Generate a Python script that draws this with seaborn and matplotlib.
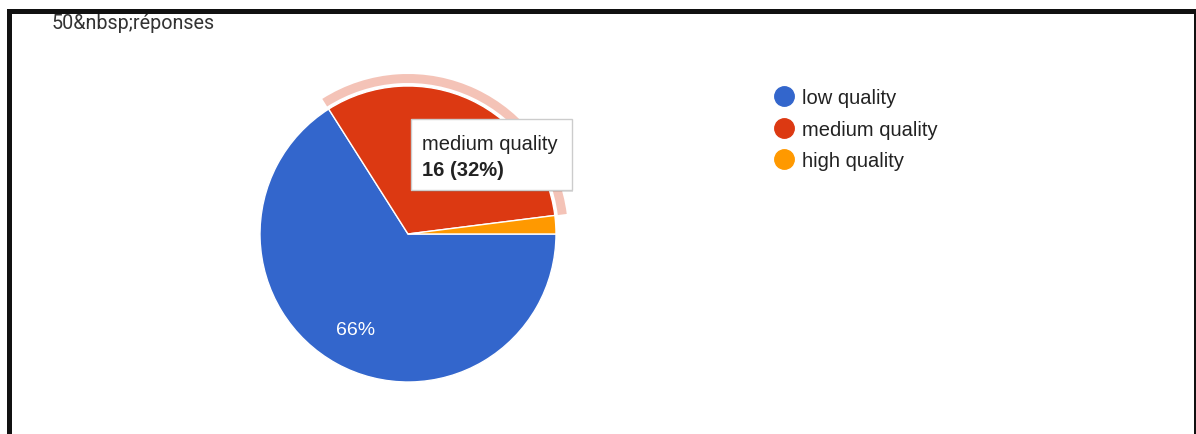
import matplotlib
matplotlib.use("Agg")
import matplotlib.pyplot as plt
import seaborn as sns
from matplotlib.patches import Wedge, Rectangle
from matplotlib.lines import Line2D

# Survey answers
categories = ["low quality", "medium quality", "high quality"]
counts = [33, 16, 1]
slice_colors = ["#3366cc", "#dc3912", "#ff9900"]
title_text = "50&nbsp;réponses"
highlighted = "medium quality"

sns.set_theme(style="white")
plt.rcParams["font.family"] = ["Liberation Sans", "DejaVu Sans"]

W, H = 1196, 435
fig = plt.figure(figsize=(W / 100, H / 100), dpi=100, facecolor="white")
ax = fig.add_axes([0, 0, 1, 1])
palette = sns.color_palette(slice_colors)

# Pie, drawn in pixel units (y pointing up)
cx, cy, r = 408, H - 235, 148
total = sum(counts)
hi = categories.index(highlighted)


def pct_label(p):
    return f"{p:.0f}%" if p >= 10 else ""


wedges, _, autotexts = ax.pie(
    counts, colors=palette, startangle=0, counterclock=False,
    radius=r, center=(cx, cy), frame=True, autopct=pct_label,
    pctdistance=0.74,
    wedgeprops=dict(edgecolor="white", linewidth=1),
    textprops=dict(color="white", fontsize=14),
)
# the hovered slice shows its value in the tooltip instead
autotexts[hi].set_visible(False)

ax.set_xlim(0, W)
ax.set_ylim(0, H)
ax.set_aspect("auto")
ax.axis("off")

# Hover ring around the highlighted slice
w = wedges[hi]
t1, t2 = sorted([w.theta1, w.theta2])
ax.add_patch(Wedge((cx, cy), r + 12, t1, t2, width=9,
                   facecolor=slice_colors[hi], alpha=0.3, linewidth=0))

# Tooltip
tx0, ty0, tw, th = 411, H - 191, 161, 71
ax.add_patch(Rectangle((tx0 + 1, ty0 - 2), tw, th, facecolor="#000000",
                       alpha=0.12, linewidth=0, zorder=8))
ax.add_patch(Rectangle((tx0, ty0), tw, th, facecolor="white",
                       edgecolor="#cccccc", linewidth=1, zorder=9))
ax.text(tx0 + 11, H - 150, categories[hi], fontsize=14.5, color="#222222",
        va="baseline", ha="left", zorder=10)
ax.text(tx0 + 11, H - 176,
        f"{counts[hi]} ({counts[hi] / total * 100:.0f}%)",
        fontsize=14.5, fontweight="bold", color="#222222",
        va="baseline", ha="left", zorder=10)

# Title
ax.text(52, H - 29, title_text, fontsize=14.2, color="#333333",
        family=["Roboto", "DejaVu Sans"], va="baseline", ha="left")

# Legend
handles = [Line2D([], [], marker="o", linestyle="none", markersize=14,
                  markerfacecolor=c, markeredgecolor=c) for c in palette]
ax.legend(handles, categories, loc="upper left",
          bbox_to_anchor=(774, H - 89.5), bbox_transform=ax.transData,
          frameon=False, fontsize=14.5, handlelength=1, handletextpad=0.4,
          labelspacing=0.62, borderaxespad=0, borderpad=0,
          labelcolor="#222222")

# Page frame
frame_color = "#111111"
ax.add_patch(Rectangle((7, 0), 5, H - 10, facecolor=frame_color, linewidth=0, zorder=20))
ax.add_patch(Rectangle((7, H - 15), W - 7, 5, facecolor=frame_color, linewidth=0, zorder=20))
ax.add_patch(Rectangle((1194, 0), 2, H - 10, facecolor=frame_color, linewidth=0, zorder=20))

fig.savefig("out.png", dpi=100, facecolor="white")
